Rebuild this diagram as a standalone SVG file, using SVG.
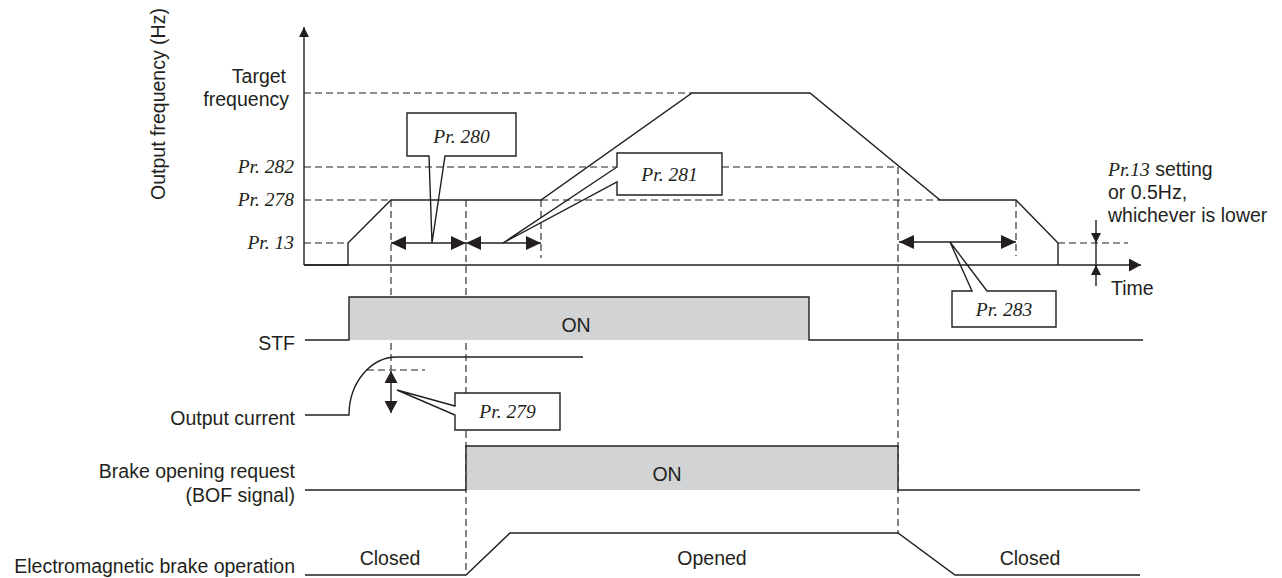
<svg xmlns="http://www.w3.org/2000/svg" width="1282" height="578" viewBox="0 0 1282 578">
<style>
.ln{fill:none;stroke:#231f20;stroke-width:1.4}
.dash{fill:none;stroke:#231f20;stroke-width:1.1;stroke-dasharray:7,4}
.on{fill:#d1d3d4;stroke:none}
.t{font-family:"Liberation Sans",Arial,Helvetica,sans-serif;font-size:19.5px;fill:#231f20}
.i{font-family:"Liberation Serif","Times New Roman",serif;font-style:italic;font-size:19.5px;fill:#231f20}
.box{fill:#fff;stroke:none}
</style>
<defs>
<marker id="ah" markerUnits="userSpaceOnUse" markerWidth="15" markerHeight="14" refX="15" refY="7" orient="auto-start-reverse"><path d="M0,0 L15,7 L0,14 Z" fill="#231f20"/></marker>
<marker id="am" markerUnits="userSpaceOnUse" markerWidth="12" markerHeight="13" refX="12" refY="6.5" orient="auto-start-reverse"><path d="M0,0 L12,6.5 L0,13 Z" fill="#231f20"/></marker>
<marker id="as" markerUnits="userSpaceOnUse" markerWidth="10" markerHeight="10" refX="10" refY="5" orient="auto-start-reverse"><path d="M0,0 L10,5 L0,10 Z" fill="#231f20"/></marker>
</defs>

<g id="axes">
<line class="ln" x1="304" y1="265" x2="304" y2="27" marker-end="url(#as)"/>
<line class="ln" x1="304" y1="265" x2="1141" y2="265" marker-end="url(#am)"/>
<text class="t" transform="translate(165,104) rotate(-90)" text-anchor="middle">Output frequency (Hz)</text>
<text class="t" x="1111" y="295">Time</text>
</g>

<g id="connectors">
<line class="dash" x1="304" y1="93" x2="692" y2="93"/>
<line class="dash" x1="304" y1="167" x2="898" y2="167"/>
<line class="dash" x1="304" y1="200" x2="391" y2="200"/>
<line class="dash" x1="541" y1="200" x2="940" y2="200"/>
<line class="dash" x1="304" y1="243" x2="348" y2="243"/>
<line class="dash" x1="1058" y1="243" x2="1128" y2="243"/>
<line class="dash" x1="391" y1="200" x2="391" y2="370"/>
<line class="dash" x1="466" y1="200" x2="466" y2="575"/>
<line class="dash" x1="541" y1="200" x2="541" y2="258"/>
<line class="dash" x1="898" y1="167" x2="898" y2="533"/>
<line class="dash" x1="1016" y1="200" x2="1016" y2="256"/>
<line class="dash" x1="367" y1="370" x2="425" y2="370"/>
<line class="ln" x1="391" y1="243" x2="466" y2="243" marker-start="url(#ah)" marker-end="url(#ah)"/>
<line class="ln" x1="466" y1="243" x2="541" y2="243" marker-start="url(#ah)" marker-end="url(#ah)"/>
<line class="ln" x1="899" y1="242" x2="1016" y2="242" marker-start="url(#ah)" marker-end="url(#ah)"/>
<line class="ln" x1="391" y1="371" x2="391" y2="413" marker-start="url(#am)" marker-end="url(#am)"/>
<line class="ln" x1="1096" y1="220" x2="1096" y2="243" marker-end="url(#as)"/>
<line class="ln" x1="1096" y1="286" x2="1096" y2="265" marker-end="url(#as)"/>
<line class="ln" x1="1096" y1="243" x2="1096" y2="265"/>
</g>

<g id="freq-labels">
<text class="t" x="286" y="83" text-anchor="end">Target</text>
<text class="t" x="289" y="106" text-anchor="end">frequency</text>
<text class="i" x="294" y="173" text-anchor="end">Pr. 282</text>
<text class="i" x="294" y="206" text-anchor="end">Pr. 278</text>
<text class="i" x="294" y="249" text-anchor="end">Pr. 13</text>
</g>

<g id="frequency-curve">
<path class="ln" d="M304,265 H348 V243 L391,200 H541 L692,93 H810 L940,200 H1016 L1058,243 V265"/>
</g>

<g id="callout-280">
<rect class="box" x="407" y="113" width="109" height="43"/>
<path class="ln" d="M429,156 H407 V113 H516 V156 H445 L432,243 Z" fill="none"/>
<text class="i" x="461.5" y="143" text-anchor="middle">Pr. 280</text>
</g>

<g id="callout-281">
<rect class="box" x="617" y="153" width="105" height="42"/>
<path class="ln" d="M617,167 V153 H722 V195 H617 V182 L503,243 Z"/>
<text class="i" x="669.5" y="181" text-anchor="middle">Pr. 281</text>
</g>

<g id="callout-283">
<rect class="box" x="952" y="291" width="104" height="36"/>
<path class="ln" d="M972,291 H952 V327 H1056 V291 H987 L950,242 Z"/>
<text class="i" x="1004" y="316" text-anchor="middle">Pr. 283</text>
</g>

<g id="note-pr13">
<text class="t" x="1108" y="176"><tspan class="i">Pr.13</tspan> setting</text>
<text class="t" x="1108" y="199">or 0.5Hz,</text>
<text class="t" x="1108" y="222">whichever is lower</text>
</g>

<g id="stf">
<rect class="on" x="349" y="297" width="460" height="43"/>
<path class="ln" d="M305,340 H349 V297 H809 V340 H1143"/>
<text class="t" x="295" y="350" text-anchor="end">STF</text>
<text class="t" x="576" y="332" text-anchor="middle">ON</text>
</g>

<g id="output-current">
<path class="ln" d="M305,415 H349 A48,58 0 0 1 397,357 H583"/>
<text class="t" x="295" y="425" text-anchor="end">Output current</text>
</g>

<g id="callout-279">
<rect class="box" x="455" y="393" width="105" height="37"/>
<path class="ln" d="M455,406 V393 H560 V430 H455 V415 L397,390 Z"/>
<text class="i" x="507.5" y="418" text-anchor="middle">Pr. 279</text>
</g>

<g id="bof">
<rect class="on" x="466" y="446" width="432" height="44"/>
<path class="ln" d="M305,490 H466 V446 H898 V490 H1140"/>
<text class="t" x="295" y="478" text-anchor="end">Brake opening request</text>
<text class="t" x="295" y="502" text-anchor="end">(BOF signal)</text>
<text class="t" x="667" y="481" text-anchor="middle">ON</text>
</g>

<g id="brake">
<path class="ln" d="M305,575 H466 L510,533 H898 L955,575 H1140"/>
<text class="t" x="295" y="573" text-anchor="end">Electromagnetic brake operation</text>
<text class="t" x="390" y="565" text-anchor="middle">Closed</text>
<text class="t" x="712" y="565" text-anchor="middle">Opened</text>
<text class="t" x="1030" y="565" text-anchor="middle">Closed</text>
</g>
</svg>
